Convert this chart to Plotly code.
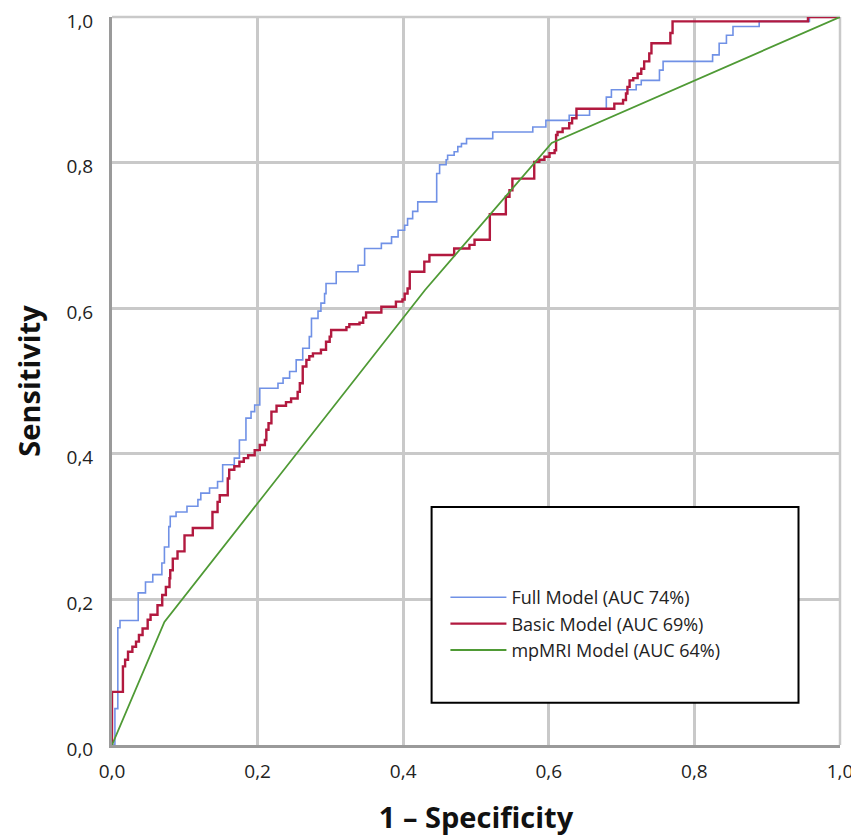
import plotly.graph_objects as go

# ---- data (ROC points: 1 - specificity, sensitivity) ----
full_fpr = [0.0, 0.004, 0.008, 0.011, 0.036, 0.046, 0.056, 0.0685, 0.072, 0.078, 0.080, 0.088,
            0.103, 0.118, 0.122, 0.134, 0.145, 0.152, 0.168, 0.175, 0.184, 0.191, 0.196, 0.203,
            0.228, 0.235, 0.244, 0.253, 0.262, 0.271, 0.274, 0.283, 0.287, 0.292, 0.294, 0.308,
            0.338, 0.347, 0.370, 0.384, 0.393, 0.402, 0.406, 0.413, 0.420, 0.446, 0.450, 0.459,
            0.461, 0.470, 0.475, 0.480, 0.487, 0.523, 0.578, 0.596, 0.628, 0.656, 0.679, 0.686,
            0.720, 0.727, 0.752, 0.757, 0.825, 0.834, 0.844, 0.853, 0.889, 0.958, 1.0]
full_tpr = [0.0, 0.050, 0.161, 0.171, 0.209, 0.224, 0.234, 0.250, 0.272, 0.300, 0.314, 0.320,
            0.328, 0.337, 0.346, 0.353, 0.362, 0.385, 0.394, 0.419, 0.449, 0.458, 0.467, 0.490,
            0.497, 0.504, 0.513, 0.529, 0.545, 0.561, 0.586, 0.596, 0.607, 0.620, 0.634, 0.650,
            0.659, 0.682, 0.689, 0.698, 0.707, 0.714, 0.723, 0.733, 0.746, 0.785, 0.797, 0.804,
            0.810, 0.815, 0.822, 0.826, 0.833, 0.842, 0.849, 0.858, 0.865, 0.874, 0.890, 0.900,
            0.907, 0.913, 0.927, 0.939, 0.948, 0.964, 0.975, 0.987, 0.994, 1.0, 1.0]

basic_fpr = [0.0, 0.0, 0.015, 0.018, 0.022, 0.028, 0.033, 0.037, 0.042, 0.049, 0.053, 0.0625,
             0.069, 0.074, 0.079, 0.080, 0.0835, 0.090, 0.0996, 0.111, 0.138, 0.145, 0.148,
             0.159, 0.161, 0.168, 0.175, 0.181, 0.187, 0.196, 0.203, 0.210, 0.212, 0.215, 0.219,
             0.226, 0.239, 0.246, 0.255, 0.258, 0.262, 0.267, 0.271, 0.276, 0.287, 0.294, 0.299,
             0.301, 0.322, 0.326, 0.340, 0.345, 0.349, 0.370, 0.390, 0.399, 0.402, 0.406, 0.409,
             0.429, 0.436, 0.470, 0.491, 0.498, 0.519, 0.541, 0.546, 0.550, 0.580, 0.587, 0.594,
             0.601, 0.608, 0.610, 0.612, 0.619, 0.628, 0.632, 0.638, 0.690, 0.702, 0.706, 0.708,
             0.711, 0.716, 0.722, 0.727, 0.731, 0.738, 0.741, 0.767, 0.770, 0.956, 1.0]
basic_tpr = [0.0, 0.073, 0.108, 0.117, 0.128, 0.135, 0.142, 0.151, 0.160, 0.172, 0.179, 0.192,
             0.206, 0.217, 0.229, 0.240, 0.256, 0.266, 0.288, 0.298, 0.320, 0.334, 0.343,
             0.366, 0.378, 0.383, 0.389, 0.394, 0.398, 0.405, 0.412, 0.419, 0.433, 0.442, 0.458,
             0.466, 0.471, 0.476, 0.485, 0.497, 0.520, 0.529, 0.534, 0.538, 0.543, 0.554, 0.561,
             0.570, 0.574, 0.578, 0.580, 0.587, 0.594, 0.602, 0.609, 0.612, 0.620, 0.627, 0.650,
             0.664, 0.673, 0.682, 0.687, 0.694, 0.729, 0.753, 0.762, 0.778, 0.801, 0.804, 0.808,
             0.813, 0.817, 0.838, 0.842, 0.847, 0.854, 0.861, 0.874, 0.881, 0.886, 0.895, 0.904,
             0.913, 0.916, 0.922, 0.929, 0.939, 0.950, 0.964, 0.978, 0.994, 1.0, 1.0]

mpmri_fpr = [0.0, 0.072, 0.43, 0.604, 1.0]
mpmri_tpr = [0.0, 0.169, 0.625, 0.827, 1.0]

series_names = ["Full Model (AUC 74%)", "Basic Model (AUC 69%)", "mpMRI Model (AUC 64%)"]
tick_vals = [0.0, 0.2, 0.4, 0.6, 0.8, 1.0]
tick_text = ["0,0", "0,2", "0,4", "0,6", "0,8", "1,0"]

FONT = "Open Sans, Liberation Sans, sans-serif"
GRID = "#c9c9c9"

fig = go.Figure()
fig.add_trace(go.Scatter(x=full_fpr, y=full_tpr, mode="lines", line_shape="hv",
                         line=dict(color="#7091E6", width=1.6), name=series_names[0]))
fig.add_trace(go.Scatter(x=basic_fpr, y=basic_tpr, mode="lines", line_shape="hv",
                         line=dict(color="#B2193F", width=2.4), name=series_names[1]))
fig.add_trace(go.Scatter(x=mpmri_fpr, y=mpmri_tpr, mode="lines",
                         line=dict(color="#4F9A35", width=1.8), name=series_names[2]))

# light frame on the top and right edges of the plot area
fig.add_shape(type="line", xref="paper", yref="paper", x0=0, x1=1, y0=1, y1=1,
              line=dict(color=GRID, width=2.5), layer="below")
fig.add_shape(type="line", xref="paper", yref="paper", x0=1, x1=1, y0=0, y1=1,
              line=dict(color=GRID, width=2.5), layer="below")

# legend box
fig.add_shape(type="rect", xref="paper", yref="paper",
              x0=0.439, x1=0.943, y0=0.058, y1=0.327,
              line=dict(color="black", width=2), fillcolor="white", layer="above")

# the page shows the figure with an 8px body offset, so the figure is sized to fit
fig.update_layout(
    width=851, height=828,
    margin=dict(l=104, r=19, t=9, b=91),
    paper_bgcolor="white", plot_bgcolor="white",
    font=dict(family=FONT, color="#222222", size=18),
    showlegend=True,
    legend=dict(x=0.458, y=0.228, xanchor="left", yanchor="top",
                bgcolor="rgba(0,0,0,0)", borderwidth=0,
                font=dict(family=FONT, size=18, color="#222222"),
                tracegroupgap=0, itemwidth=56),
    xaxis=dict(range=[0, 1], tickvals=tick_vals, ticktext=tick_text,
               showgrid=True, gridcolor=GRID, gridwidth=2.5,
               zeroline=False, showline=True, linecolor="#9a9a9a", linewidth=3,
               ticks="", ticklabelstandoff=7, automargin=False,
               ticklabeloverflow="allow",
               tickfont=dict(family=FONT, size=19, color="#222222"),
               title=dict(text="<b>1 – Specificity</b>", standoff=34,
                          font=dict(family=FONT, size=29, color="#111111"))),
    yaxis=dict(range=[0, 1], tickvals=tick_vals, ticktext=tick_text,
               showgrid=True, gridcolor=GRID, gridwidth=2.5,
               zeroline=False, showline=True, linecolor="#9a9a9a", linewidth=3,
               ticks="", ticklabelstandoff=12, ticklabelshift=4, automargin=False,
               ticklabeloverflow="allow",
               tickfont=dict(family=FONT, size=19, color="#222222"),
               title=dict(text="<b>Sensitivity</b>", standoff=18,
                          font=dict(family=FONT, size=29, color="#111111"))),
)

fig.write_html("out.html")
